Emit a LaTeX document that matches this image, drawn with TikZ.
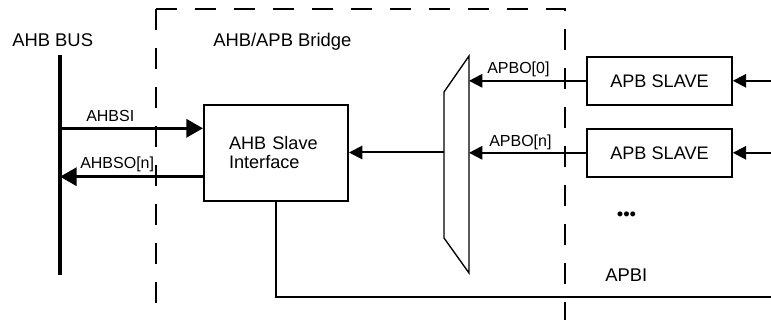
\documentclass[tikz,border=0pt]{standalone}
\usepackage{fontspec}
\setmainfont{Liberation Sans}
\usetikzlibrary{arrows.meta}
\definecolor{trazo}{HTML}{000000}
\tikzset{
  caja/.style={draw=trazo, line width=1.5pt, minimum width=108.5pt, minimum height=36pt, inner sep=0pt, font=\fontsize{13.6}{14.25}\selectfont},
  etiqueta/.style={text=trazo, inner sep=0pt, anchor=base west, font=\fontsize{12}{14}\selectfont},
  titulo/.style={text=trazo, inner sep=0pt, anchor=base west, font=\fontsize{13.8}{16}\selectfont},
  flecha/.style={draw=trazo, line width=1.5pt, -{Triangle[length=10pt,width=10pt]}},
  gruesa/.style={draw=trazo, line width=2.5pt, -{Triangle[length=12.5pt,width=13.5pt]}},
  corte/.style={draw=trazo, line width=1.5pt, dash pattern=on 15.75pt off 13.5pt}
}
\begin{document}
\begin{tikzpicture}[x=0.75pt, y=-0.75pt]
  \useasboundingbox (0,0) rectangle (771,320);
  \draw[corte] (156,9) -- (156,320);
  \draw[corte] (156,9) -- (565,9) -- (565,320);
  \node[titulo] (bus) at (12,46.7) {AHB BUS};
  \node[titulo] (puente) at (213,46.7) {AHB/APB Bridge};
  \coordinate (busA) at (60,55);
  \coordinate (busB) at (60,275);
  \draw[trazo, line width=2.5pt] (busA) -- (busB);
  \node[caja, minimum width=108pt, minimum height=72pt, inner xsep=18.75pt, text width=70.5pt, align=left] (ahb) at (276,153) {AHB Slave\\Interface};
  \node[caja] (s0) at (659.5,80.8) {APB SLAVE};
  \node[caja] (sn) at (659.5,152.8) {APB SLAVE};
  \coordinate (busI) at (60,128.3);
  \coordinate (busO) at (60,176.7);
  \draw[gruesa] (busI) -- (busI -| ahb.west);
  \draw[gruesa] (busO -| ahb.west) -- (busO);
  \node[etiqueta] (ahbsi) at (86,121.7) {AHBSI};
  \node[etiqueta] (ahbso) at (80,168.2) {AHBSO[n]};
  \coordinate (m1) at (469,56);
  \coordinate (m2) at (444,92);
  \coordinate (m3) at (444,238);
  \coordinate (m4) at (469,273);
  \draw[trazo, line width=1pt] (m1) -- (m2) -- (m3) -- (m4) -- cycle;
  \coordinate (salida) at (444,152.5);
  \draw[flecha] (salida) -- (salida -| ahb.east);
  \draw[flecha] (s0.west) -- (s0.west -| m1);
  \draw[flecha] (sn.west) -- (sn.west -| m1);
  \node[etiqueta] (apbo0) at (487,74) {APBO[0]};
  \node[etiqueta] (apbon) at (489,146.7) {APBO[n]};
  \coordinate (ent0) at (771,80.8);
  \coordinate (entn) at (771,152.8);
  \draw[flecha] (ent0) -- (s0.east);
  \draw[flecha] (entn) -- (sn.east);
  \node[titulo, anchor=base] (puntos) at (626.5,220.5) {•••};
  \coordinate (apbi) at (771,296.7);
  \draw[trazo, line width=1.75pt] (ahb.south) |- (apbi);
  \node[titulo] (apbitxt) at (605,281.7) {APBI};
\end{tikzpicture}
\end{document}
